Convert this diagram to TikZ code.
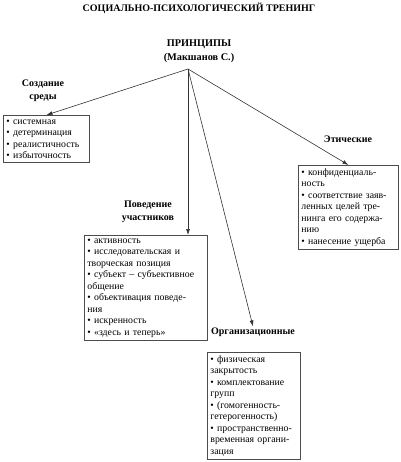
\documentclass[tikz,border=0pt]{standalone}
\usepackage{fontspec}
\setmainfont{Liberation Serif}
\usetikzlibrary{arrows.meta}
\newcommand{\itm}{\textbullet\ }
\begin{document}
\begin{tikzpicture}[x=1pt,y=-1pt,
  lab/.style={font=\fontsize{10}{12.5}\selectfont\bfseries,align=center,inner sep=1pt},
  box/.style={draw=black!70,line width=0.9pt,anchor=north west,align=left,inner sep=3pt,
    font=\fontsize{9.8}{11.5}\selectfont},
  link/.style={draw=black!80,line width=0.6pt,-{Latex[length=6pt,width=4pt]}}]
\useasboundingbox (0,0) rectangle (400,462);
% title and root
\node[lab,font=\fontsize{10}{11}\selectfont\bfseries] (title) at (199,8) {СОЦИАЛЬНО-ПСИХОЛОГИЧЕСКИЙ ТРЕНИНГ};
\node[lab,font=\fontsize{10.3}{14}\selectfont\bfseries] (princ) at (199,51) {ПРИНЦИПЫ\\(Макшанов С.)};
\coordinate (apex) at (188,69);
% labels
\node[lab] (sredalab) at (43,91) {Создание\\среды};
\node[lab] (povlab) at (148,212) {Поведение\\участников};
\node[lab] (orglab) at (253,332) {Организационные};
\node[lab] (etlab) at (348,139) {Этические};
% boxes
\node[box,text width=80pt,inner ysep=4pt] (sredabox) at (3,115) {\itm системная\\\itm детерминация\\\itm реалистичность\\\itm избыточность};
\node[box,text width=117pt] (povbox) at (84,235) {\itm активность\\\itm исследовательская и\\творческая позиция\\\itm субъект -- субъективное\\общение\\\itm объективация поведе-\\ния\\\itm искренность\\\itm «здесь и теперь»};
\node[box,text width=87pt] (orgbox) at (207,352) {\itm физическая\\закрытость\\\itm комплектование\\групп\\\itm (гомогенность-\\гетерогенность)\\\itm пространственно-\\временная органи-\\зация};
\node[box,text width=94pt] (etbox) at (298,165) {\itm конфиденциаль-\\ность\\\itm соответствие заяв-\\ленных целей тре-\\нинга его содержа-\\нию\\\itm нанесение ущерба};
% connectors
\draw[link] (apex) -- (sredabox.north);
\draw[link] (apex) -- (apex |- povbox.north);
\draw[link] (apex) -- (orglab.north);
\draw[link] (apex) -- (etbox.north);
\end{tikzpicture}
\end{document}
